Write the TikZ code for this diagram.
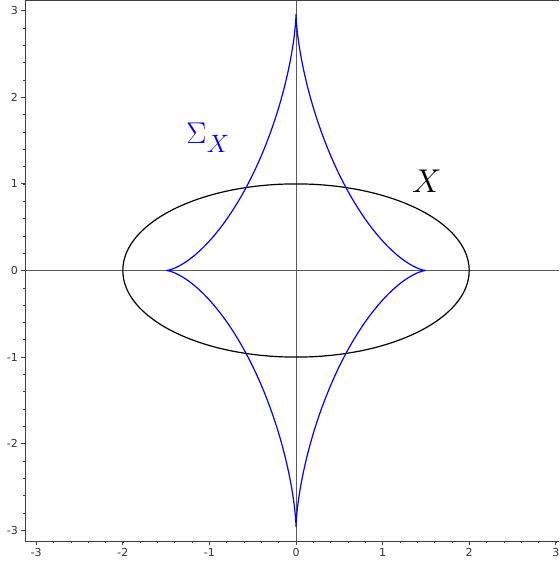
\documentclass[tikz,border=0pt]{standalone}
\usepackage{fontspec}
\newfontfamily\tickfont{DejaVu Sans}
\definecolor{spinecol}{gray}{0.25}
\definecolor{axiscol}{gray}{0.35}
\tikzset{
  spine/.style={draw=spinecol, line width=1pt},
  axisline/.style={draw=axiscol, line width=0.8pt},
  majtick/.style={draw=spinecol, line width=0.8pt},
  mintick/.style={draw=spinecol, line width=0.6pt},
  ticklab/.style={font=\tickfont\fontsize{11}{11}\selectfont, text=black!80, inner sep=0pt},
  curve/.style={line width=1.2pt},
  biglab/.style={font=\fontsize{20.74}{22}\selectfont, inner sep=0pt},
}
\begin{document}
\begin{tikzpicture}[x=1pt,y=1pt]
\useasboundingbox (0,0) rectangle (559,-561);
\fill[white] (0,0) rectangle (559,-561);
% frame
\draw[spine] (25,-1) -- (559,-1);
\draw[spine] (25,-1) -- (25,-541) -- (559,-541);
% ticks
\foreach \v in {-3,...,3}{
  \draw[majtick] ({296+86.6*\v},-541) -- ++(0,-4);
  \draw[majtick] (25,{-270.5+86.6*\v}) -- ++(-4,0);
  \node[ticklab, anchor=north] at ({296+86.6*\v},-548) {\v};
  \node[ticklab, anchor=east] at (18,{-270.5+86.6*\v}) {\v};
}
\foreach \v in {-2.8,-2.6,...,3.0}{
  \draw[mintick] ({296+86.6*\v},-541) -- ++(0,-2.2);
  \draw[mintick] (25,{-270.5-86.6*\v}) -- ++(-2.2,0);
}
\begin{scope}[shift={(296,-270.5)}, x=86.6pt, y=86.6pt]
  \coordinate (xl) at (-3.13,0);
  \coordinate (xr) at (3.04,0);
  \coordinate (yb) at (0,-3.12);
  \coordinate (yt) at (0,3.11);
  \draw[axisline] (xl) -- (xr);
  \draw[axisline] (yb) -- (yt);
  \draw[curve, black] (0,0) ellipse [x radius=2, y radius=1];
  \draw[curve, blue] plot[domain=0:360, samples=361, variable=\t]
    ({1.5*cos(\t)*cos(\t)*cos(\t)},{2.96*sin(\t)*sin(\t)*sin(\t)});
  \node[biglab, text=blue, scale=1.45, anchor=base west] (sig) at (-1.27,1.461)
    {$\Sigma$\kern0.3pt\raisebox{-6.2pt}{\fontsize{17.28}{18}\selectfont$X$}};
  \node[biglab, text=black, scale=1.59, anchor=base] (xlab) at (1.51,0.895) {$X$};
\end{scope}
\end{tikzpicture}
\end{document}
